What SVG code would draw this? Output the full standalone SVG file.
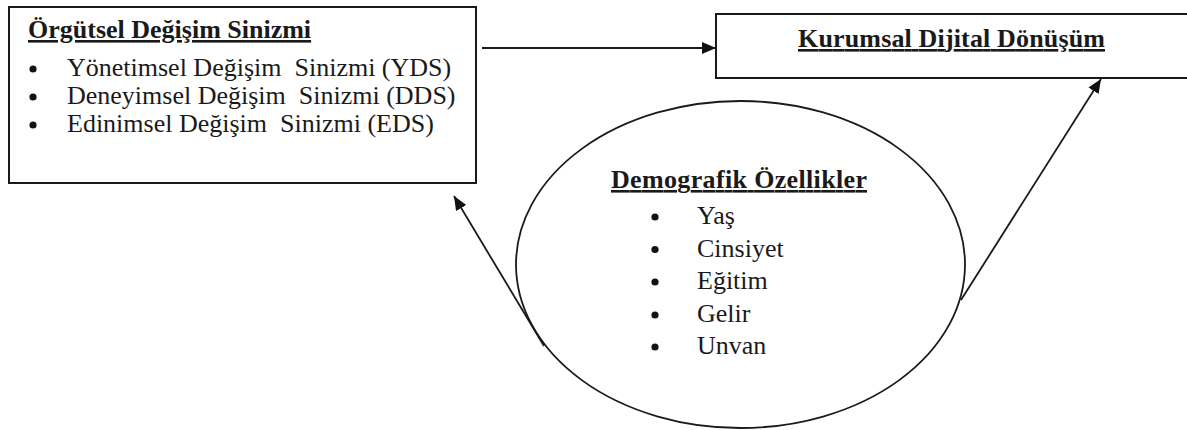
<svg xmlns="http://www.w3.org/2000/svg" width="1187" height="430" viewBox="0 0 1187 430">
  <style>
    .box { fill: #fff; stroke: #1a1a1a; stroke-width: 2; }
    .ell { fill: none; stroke: #1a1a1a; stroke-width: 1.8; }
    .conn { fill: none; stroke: #1a1a1a; stroke-width: 1.8; }
    .title { font-family: "Liberation Serif", "Times New Roman", serif; font-size: 26px; font-weight: bold; fill: #1a1a1a; text-decoration: underline; }
    .item { font-family: "Liberation Serif", "Times New Roman", serif; font-size: 26px; fill: #1a1a1a; white-space: pre; }
    .bullet { fill: #111; }
  </style>
  <defs>
    <marker id="arrow" viewBox="0 0 14 12" refX="14" refY="6" markerWidth="14" markerHeight="12" markerUnits="userSpaceOnUse" orient="auto">
      <path d="M0,0 L14,6 L0,12 Z" fill="#111"/>
    </marker>
  </defs>

  <g id="node-orgutsel">
    <rect class="box" x="9" y="7" width="467" height="176"/>
    <text class="title" x="28" y="38">Örgütsel Değişim Sinizmi</text>
    <circle class="bullet" cx="33" cy="69" r="3.6"/>
    <circle class="bullet" cx="33" cy="97" r="3.6"/>
    <circle class="bullet" cx="33" cy="125" r="3.6"/>
    <text class="item" x="67" y="76" xml:space="preserve">Yönetimsel Değişim  Sinizmi (YDS)</text>
    <text class="item" x="67" y="104" xml:space="preserve">Deneyimsel Değişim  Sinizmi (DDS)</text>
    <text class="item" x="67" y="132" xml:space="preserve">Edinimsel Değişim  Sinizmi (EDS)</text>
  </g>

  <g id="node-kurumsal">
    <rect class="box" x="716" y="14" width="473" height="64"/>
    <text class="title" x="798" y="47" textLength="307" lengthAdjust="spacing">Kurumsal Dijital Dönüşüm</text>
  </g>

  <g id="node-demografik">
    <ellipse class="ell" cx="740.5" cy="264.5" rx="224.5" ry="163.5"/>
    <text class="title" x="611" y="188" textLength="256" lengthAdjust="spacing">Demografik Özellikler</text>
    <circle class="bullet" cx="655" cy="217" r="3.6"/>
    <circle class="bullet" cx="655" cy="249.5" r="3.6"/>
    <circle class="bullet" cx="655" cy="282" r="3.6"/>
    <circle class="bullet" cx="655" cy="315" r="3.6"/>
    <circle class="bullet" cx="655" cy="347" r="3.6"/>
    <text class="item" x="697" y="224">Yaş</text>
    <text class="item" x="697" y="256.5">Cinsiyet</text>
    <text class="item" x="697" y="289">Eğitim</text>
    <text class="item" x="697" y="321.5">Gelir</text>
    <text class="item" x="697" y="353.5">Unvan</text>
  </g>

  <g id="connectors">
    <line class="conn" x1="482" y1="48" x2="716" y2="48" marker-end="url(#arrow)"/>
    <line class="conn" x1="544" y1="346" x2="454" y2="196" marker-end="url(#arrow)"/>
    <line class="conn" x1="961" y1="300" x2="1101" y2="79" marker-end="url(#arrow)"/>
  </g>
</svg>
